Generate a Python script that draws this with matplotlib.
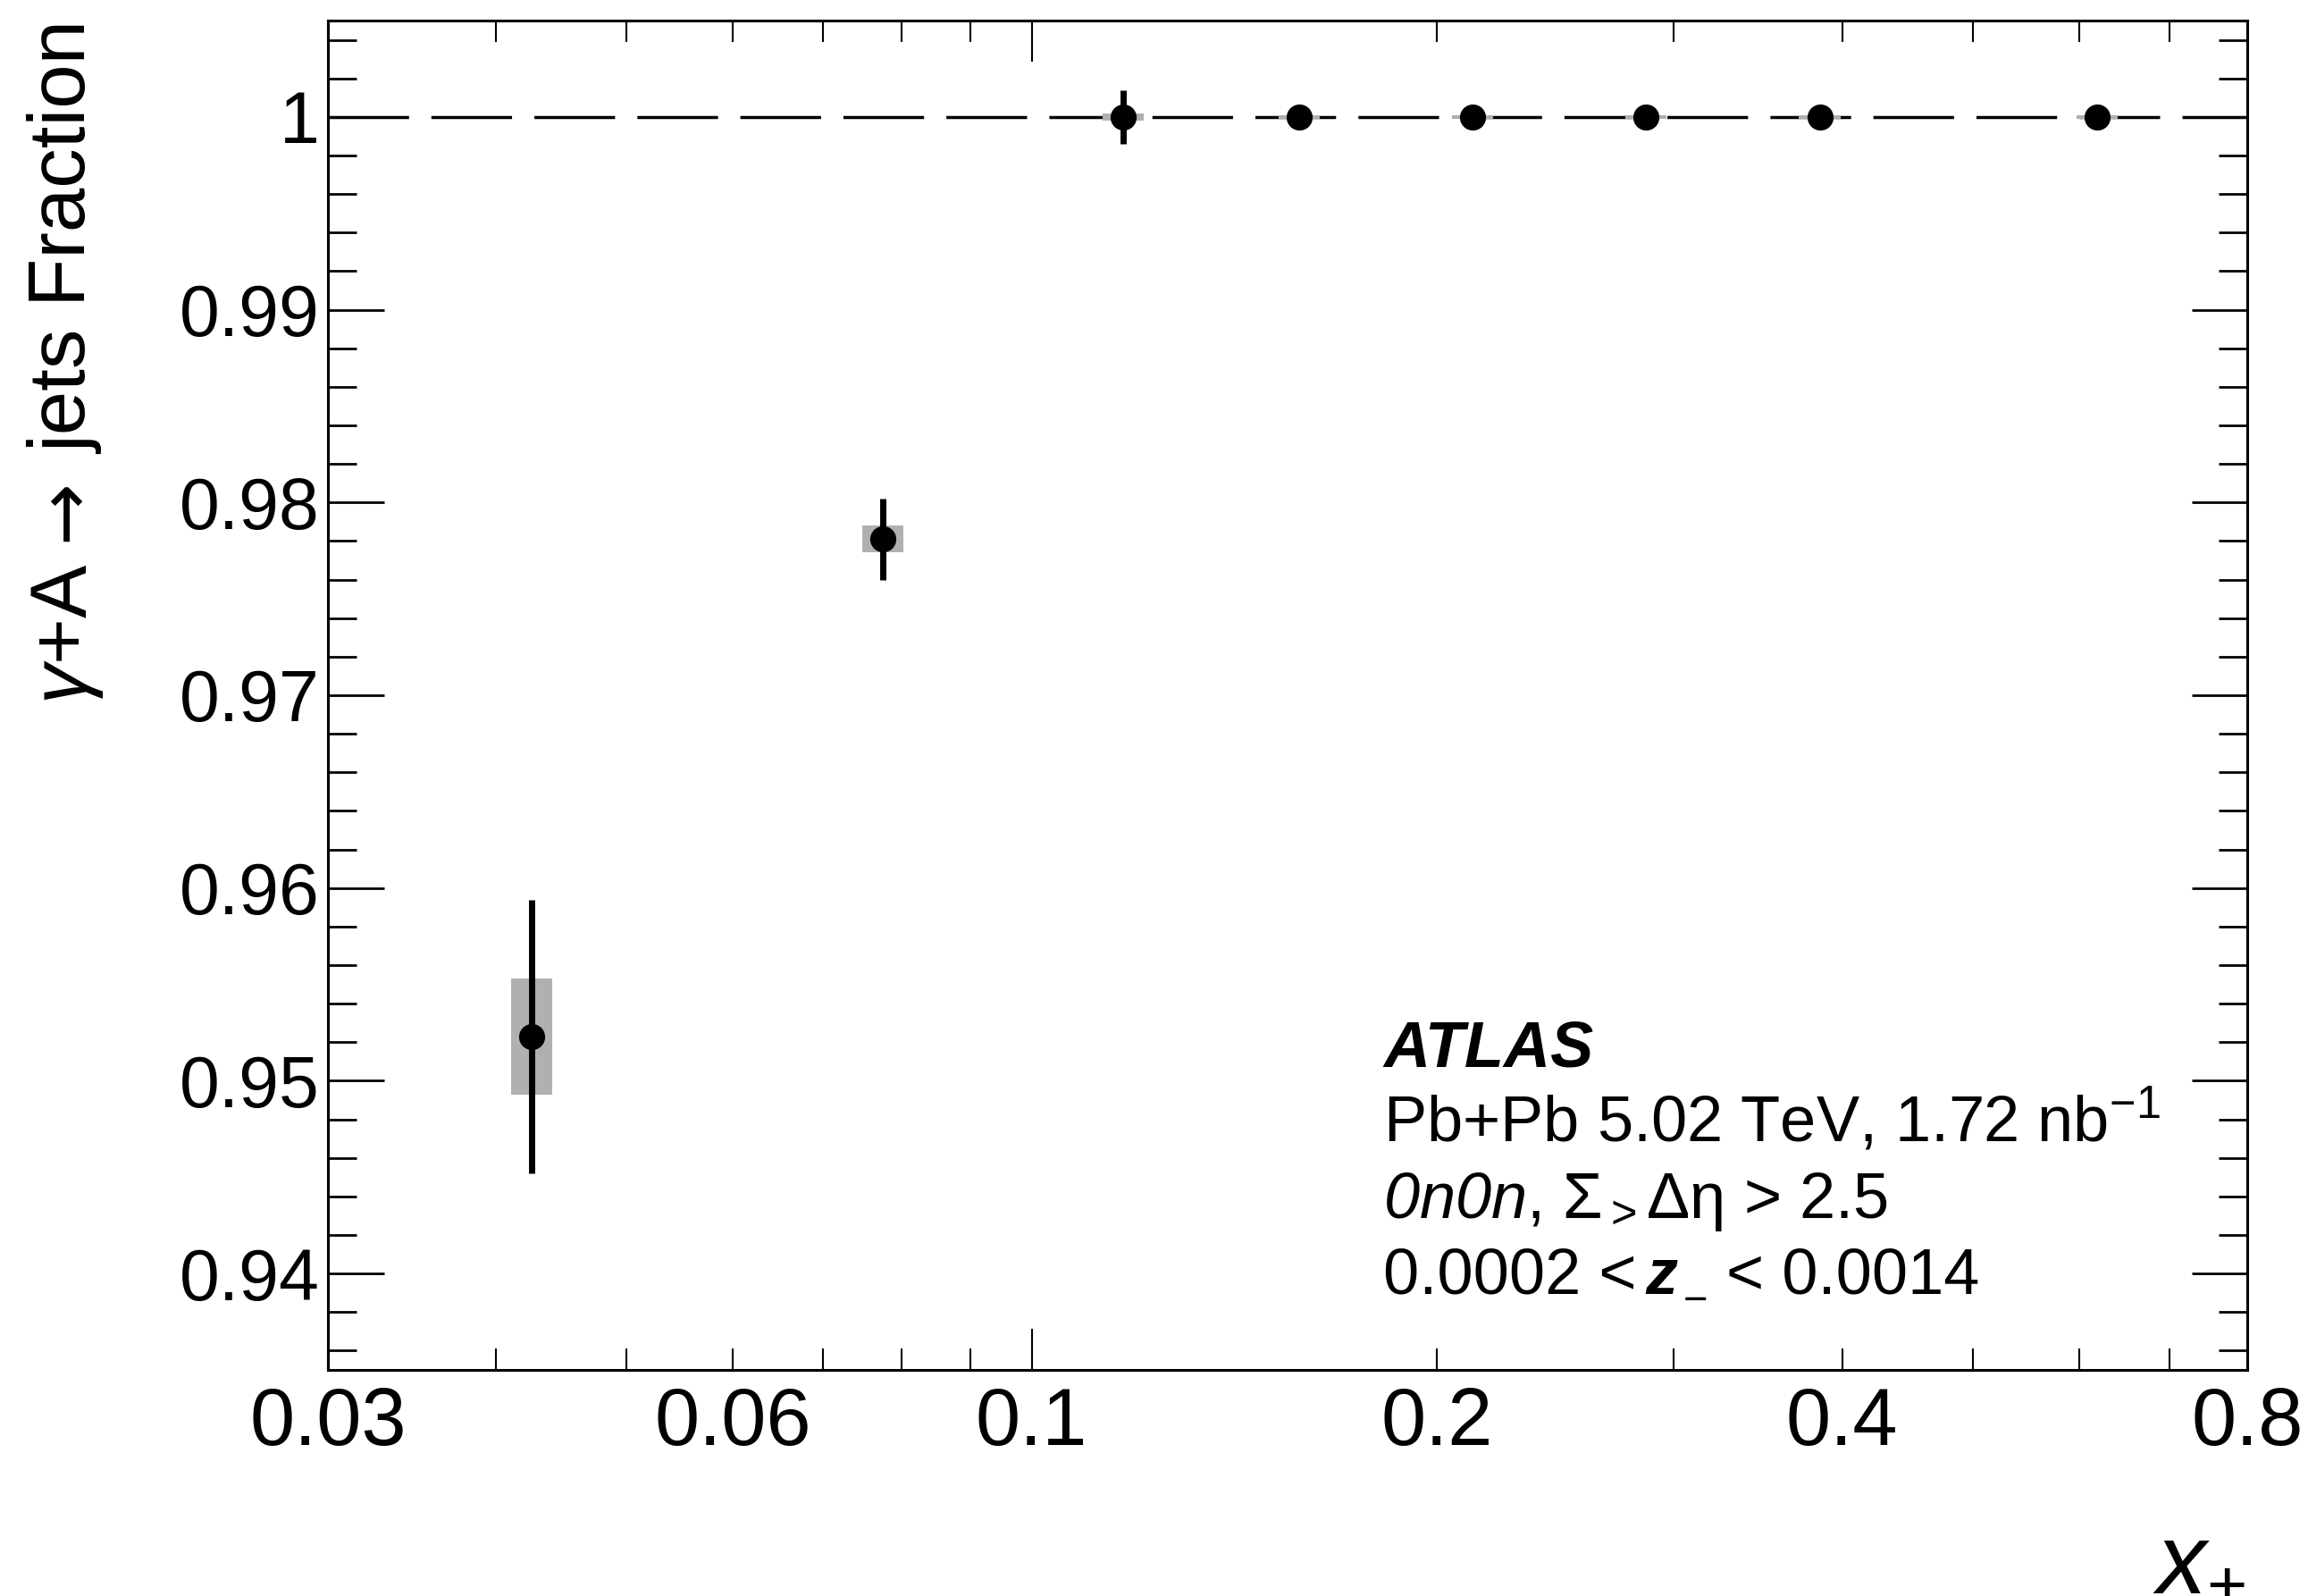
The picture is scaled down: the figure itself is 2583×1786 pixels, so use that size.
import matplotlib
matplotlib.use('Agg')
import matplotlib.pyplot as plt
import numpy as np
from matplotlib.ticker import FixedLocator, MultipleLocator, FuncFormatter

plt.rcParams['font.family'] = ['Liberation Sans', 'DejaVu Sans']
plt.rcParams['mathtext.fontset'] = 'custom'
plt.rcParams['mathtext.rm'] = 'Liberation Sans'
plt.rcParams['mathtext.it'] = 'Liberation Sans:italic'
plt.rcParams['mathtext.bf'] = 'Liberation Sans:bold'
plt.rcParams['mathtext.sf'] = 'Liberation Sans:italic'

# data
x_plus = np.array([0.0425, 0.0775, 0.117, 0.158, 0.2125, 0.286, 0.385, 0.619])
fraction = np.array([0.9523, 0.9781, 1.0, 1.0, 1.0, 1.0, 1.0, 1.0])
stat_err = np.array([0.0071, 0.0021, 0.0014, 0.0002, 0.0002, 0.0002, 0.0002, 0.0002])
syst_err = np.array([0.0030, 0.0007, 0.0002, 0.0001, 0.0001, 0.0001, 0.0001, 0.0001])

x_labels = [0.03, 0.06, 0.1, 0.2, 0.4, 0.8]
x_minor = [0.03, 0.04, 0.05, 0.06, 0.07, 0.08, 0.09, 0.2, 0.3, 0.4, 0.5, 0.6, 0.7, 0.8]

W, H = 2583, 1786
fig = plt.figure(figsize=(W / 100, H / 100), dpi=100)
ax = fig.add_axes([367 / W, 1 - 1533 / H, (2515 - 367) / W, (1533 - 23) / H])

ax.set_xscale('log')
ax.set_xlim(0.03, 0.8)
ax.set_ylim(0.935, 1.005)

# systematic boxes
half = 1.036
lo = x_plus / half
hi = x_plus * half
ax.bar(lo, 2 * syst_err, width=hi - lo, bottom=fraction - syst_err,
       align='edge', color='#b0b0b0', edgecolor='none', zorder=2)

ax.axhline(1.0, color='black', lw=2.5, dashes=(26, 7.2), zorder=1)

ax.errorbar(x_plus, fraction, yerr=stat_err, fmt='o', color='black',
            markersize=20, elinewidth=5, capsize=0, zorder=3)

# x ticks: one long tick at 0.1, short ones elsewhere
ax.xaxis.set_major_locator(FixedLocator([0.1]))
ax.xaxis.set_minor_locator(FixedLocator(x_minor))
fmt = FuncFormatter(lambda v, p: f"{v:g}" if any(abs(v - t) < 1e-9 for t in x_labels) else "")
ax.xaxis.set_major_formatter(fmt)
ax.xaxis.set_minor_formatter(fmt)

ax.yaxis.set_major_locator(MultipleLocator(0.01))
ax.yaxis.set_minor_locator(MultipleLocator(0.002))
ax.yaxis.set_major_formatter(FuncFormatter(lambda v, p: f"{round(v, 4):g}"))

ax.tick_params(axis='both', which='both', direction='in', top=True, right=True, colors='black')
ax.tick_params(axis='x', which='major', length=33, width=1.5, labelsize=65, pad=13)
ax.tick_params(axis='x', which='minor', length=17, width=1.5, labelsize=65, pad=13)
ax.tick_params(axis='y', which='major', length=45, width=2, labelsize=58, pad=7)
ax.tick_params(axis='y', which='minor', length=23, width=2)

for s in ax.spines.values():
    s.set_linewidth(2.2)

# y title in three pieces so the arrow can come from DejaVu Sans
ybase = 97 / W
fig.text(ybase, 1 - 788 / H, r"$\gamma$+A", rotation=90, rotation_mode='anchor',
         ha='left', va='baseline', fontsize=64)
fig.text(ybase, 1 - 606 / H, "→", rotation=90, rotation_mode='anchor',
         ha='left', va='baseline', fontsize=60, family='DejaVu Sans')
fig.text(ybase, 1 - 508 / H, "jets Fraction", rotation=90, rotation_mode='anchor',
         ha='left', va='baseline', fontsize=64)

fig.text(2513 / W, 1 - 1776 / H, r"$x_{+}$", ha='right', va='baseline', fontsize=80)

tx = 1548 / W
fig.text(tx, 1 - 1193 / H, "ATLAS", fontsize=52, fontweight='bold', style='italic', va='baseline')
fig.text(tx, 1 - 1277 / H, r"Pb+Pb 5.02 TeV, 1.72 nb$^{-1}$", fontsize=52, va='baseline')
fig.text(tx, 1 - 1363 / H, r"$\mathsf{0n0n}$, Σ$_{>}$Δη > 2.5", fontsize=52, va='baseline')
fig.text(tx, 1 - 1448 / H, "0.0002 <", fontsize=52, va='baseline')
fig.text(1841 / W, 1 - 1448 / H, "z", fontsize=52, fontweight='bold', style='italic', va='baseline')
fig.text(1884 / W, 1 - 1469 / H, "−", fontsize=34, va='baseline')
fig.text(1932 / W, 1 - 1448 / H, "< 0.0014", fontsize=52, va='baseline')

fig.savefig('out.png', dpi=100)
